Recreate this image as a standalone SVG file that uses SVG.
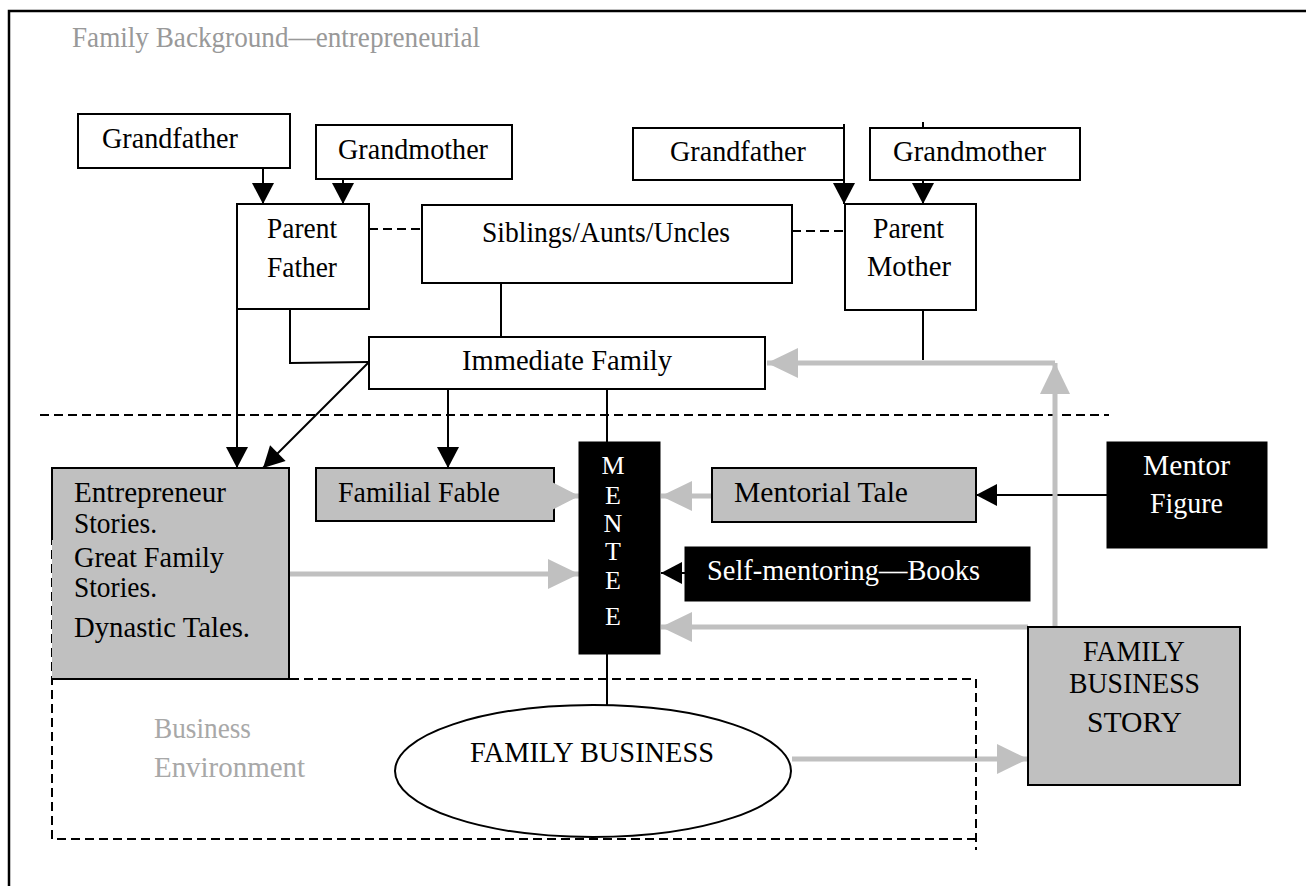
<svg xmlns="http://www.w3.org/2000/svg" width="1306" height="886" viewBox="0 0 1306 886">
<style>
.box{fill:#fff;stroke:#000;stroke-width:2}
.gbox{fill:#c0c0c0;stroke:#000;stroke-width:2}
.bbox{fill:#000;stroke:#000;stroke-width:1}
.t{font-family:"Liberation Serif","Times New Roman",serif;font-size:29px;fill:#000}
.w{fill:#fff}
.conn{stroke:#000;stroke-width:2;fill:none}
.arr{stroke:#000;stroke-width:2;fill:none;marker-end:url(#bh)}
.dash{stroke:#000;stroke-width:2;stroke-dasharray:9 5;fill:none}
.garr{stroke:#c0c0c0;stroke-width:5;fill:none;marker-end:url(#gh)}
</style>
<defs>
<marker id="bh" markerUnits="userSpaceOnUse" markerWidth="21" markerHeight="22" refX="21" refY="11" orient="auto" overflow="visible">
<path d="M0,0 L21,11 L0,22 z" fill="#000"/>
</marker>
<marker id="gh" markerUnits="userSpaceOnUse" markerWidth="31" markerHeight="30" refX="31" refY="15" orient="auto" overflow="visible">
<path d="M0,0 L31,15 L0,30 z" fill="#c0c0c0"/>
</marker>
</defs>
<rect width="1306" height="886" fill="#fff"/>
<path d="M9,886 V11 H1306" fill="none" stroke="#000" stroke-width="2.5"/>
<text class="t" x="72" y="47" style="fill:#999" textLength="408" lengthAdjust="spacingAndGlyphs">Family Background—entrepreneurial</text>

<g id="connectors">
<path class="arr" d="M263,168 V204"/>
<path class="arr" d="M343,179 V204"/>
<path class="arr" d="M844,124 V204"/>
<path class="arr" d="M923,122 V204"/>
<path class="dash" d="M369,229 H422"/>
<path class="dash" d="M792,231 H845"/>
<path class="conn" d="M501,283 V337"/>
<path class="conn" d="M290,309 V363 L369,362"/>
<path class="arr" d="M237,309 V468"/>
<path class="arr" d="M369,362 L263,468"/>
<path class="arr" d="M448,389 V468"/>
<path class="conn" d="M607,389 V442"/>
<path class="conn" d="M923,310 V360"/>
<path class="conn" d="M607,654 V705"/>
<path class="arr" d="M1107,495 H976"/>
<path class="arr" d="M685,573 H661"/>
<path class="dash" d="M40,415 H1109"/>
<path class="garr" d="M540,496 H579"/>
<path class="garr" d="M290,574 H579"/>
<path class="garr" d="M712,496 H661"/>
<path class="garr" d="M1028,627 H661"/>
<path class="garr" d="M1055,627 V363"/>
<path class="garr" d="M1055,363 H767"/>
<path class="garr" d="M792,759 H1028"/>
</g>

<g id="business-environment">
<path class="dash" d="M290,679 H976 V850 M976,839 H52 V540"/>
<text class="t" x="154" y="738" style="fill:#a8a8a8" textLength="97" lengthAdjust="spacingAndGlyphs">Business</text>
<text class="t" x="154" y="777" style="fill:#a8a8a8" textLength="151" lengthAdjust="spacingAndGlyphs">Environment</text>
</g>

<g id="grandfather-left">
<rect class="box" x="78" y="114" width="212" height="54"/>
<text class="t" x="102" y="148" textLength="136" lengthAdjust="spacingAndGlyphs">Grandfather</text>
</g>
<g id="grandmother-left">
<rect class="box" x="316" y="125" width="196" height="54"/>
<text class="t" x="338" y="159" textLength="150" lengthAdjust="spacingAndGlyphs">Grandmother</text>
</g>
<g id="parent-father">
<rect class="box" x="237" y="204" width="132" height="105"/>
<text class="t" x="267" y="238" textLength="70" lengthAdjust="spacingAndGlyphs">Parent</text>
<text class="t" x="267" y="277" textLength="70" lengthAdjust="spacingAndGlyphs">Father</text>
</g>
<g id="siblings">
<rect class="box" x="422" y="205" width="370" height="78"/>
<text class="t" x="482" y="242" textLength="248" lengthAdjust="spacingAndGlyphs">Siblings/Aunts/Uncles</text>
</g>
<g id="grandfather-right">
<rect class="box" x="633" y="128" width="211" height="52"/>
<text class="t" x="670" y="161" textLength="136" lengthAdjust="spacingAndGlyphs">Grandfather</text>
</g>
<g id="grandmother-right">
<rect class="box" x="870" y="128" width="210" height="52"/>
<text class="t" x="893" y="161" textLength="153" lengthAdjust="spacingAndGlyphs">Grandmother</text>
</g>
<g id="parent-mother">
<rect class="box" x="845" y="204" width="131" height="106"/>
<text class="t" x="873" y="238" textLength="71" lengthAdjust="spacingAndGlyphs">Parent</text>
<text class="t" x="867" y="276" textLength="84" lengthAdjust="spacingAndGlyphs">Mother</text>
</g>
<g id="immediate-family">
<rect class="box" x="369" y="337" width="396" height="52"/>
<text class="t" x="462" y="370" textLength="210" lengthAdjust="spacingAndGlyphs">Immediate Family</text>
</g>
<g id="entrepreneur-stories">
<rect x="52" y="468" width="237" height="211" fill="#c0c0c0"/>
<path d="M52,540 V468 H289 V679 H52" fill="none" stroke="#000" stroke-width="2"/>
<text class="t" x="74" y="502" textLength="152" lengthAdjust="spacingAndGlyphs">Entrepreneur</text>
<text class="t" x="74" y="533" textLength="83" lengthAdjust="spacingAndGlyphs">Stories.</text>
<text class="t" x="74" y="567" textLength="150" lengthAdjust="spacingAndGlyphs">Great Family</text>
<text class="t" x="74" y="597" textLength="83" lengthAdjust="spacingAndGlyphs">Stories.</text>
<text class="t" x="74" y="637" textLength="176" lengthAdjust="spacingAndGlyphs">Dynastic Tales.</text>
</g>
<g id="familial-fable">
<rect class="gbox" x="316" y="468" width="238" height="53"/>
<text class="t" x="338" y="502" textLength="162" lengthAdjust="spacingAndGlyphs">Familial Fable</text>
<path d="M550,481 L579,496 L550,511 z" fill="#c0c0c0"/>
</g>
<g id="mentee">
<rect class="bbox" x="579" y="442" width="81" height="212"/>
<g class="t w" text-anchor="middle" style="font-size:26px">
<text x="613" y="474">M</text>
<text x="613" y="504">E</text>
<text x="613" y="532">N</text>
<text x="613" y="560">T</text>
<text x="613" y="589">E</text>
<text x="613" y="625">E</text>
</g>
</g>
<g id="mentorial-tale">
<rect class="gbox" x="712" y="468" width="264" height="54"/>
<text class="t" x="734" y="502" textLength="174" lengthAdjust="spacingAndGlyphs">Mentorial Tale</text>
</g>
<g id="mentor-figure">
<rect class="bbox" x="1107" y="442" width="160" height="106"/>
<text class="t w" x="1143" y="475" textLength="87" lengthAdjust="spacingAndGlyphs">Mentor</text>
<text class="t w" x="1150" y="513" textLength="73" lengthAdjust="spacingAndGlyphs">Figure</text>
</g>
<g id="self-mentoring">
<rect class="bbox" x="685" y="547" width="345" height="54"/>
<text class="t w" x="707" y="580" textLength="273" lengthAdjust="spacingAndGlyphs">Self-mentoring—Books</text>
</g>
<g id="family-business-story">
<rect class="gbox" x="1028" y="627" width="212" height="158"/>
<text class="t" x="1083" y="661" textLength="102" lengthAdjust="spacingAndGlyphs">FAMILY</text>
<text class="t" x="1069" y="693" textLength="131" lengthAdjust="spacingAndGlyphs">BUSINESS</text>
<text class="t" x="1087" y="732" textLength="95" lengthAdjust="spacingAndGlyphs">STORY</text>
</g>
<g id="family-business">
<ellipse cx="593" cy="771" rx="198" ry="66" fill="#fff" stroke="#000" stroke-width="2"/>
<text class="t" x="470" y="762" textLength="244" lengthAdjust="spacingAndGlyphs">FAMILY BUSINESS</text>
</g>
</svg>
